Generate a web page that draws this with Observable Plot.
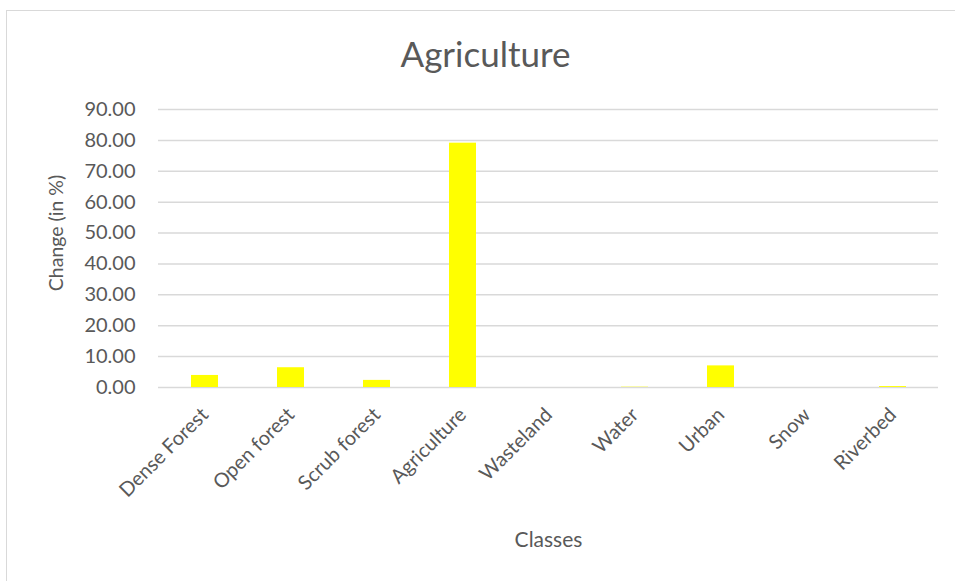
<!DOCTYPE html>
<html>
<head>
<meta charset="utf-8">
<script src="https://cdn.jsdelivr.net/npm/d3@7"></script>
<script src="https://cdn.jsdelivr.net/npm/@observablehq/plot@0.6"></script>
<style>
  body { margin: 0; background: #fff; }
  #wrap { position: relative; width: 955px; height: 581px; overflow: hidden; font-family: Lato, "Open Sans", sans-serif; color: #595959; }
  #frame { position: absolute; left: 6px; top: 10px; width: 1000px; height: 1000px; border-left: 1.5px solid #d9d9d9; border-top: 1.5px solid #d9d9d9; box-sizing: border-box; }
  #title { position: absolute; left: 0; width: 971px; top: 36px; text-align: center; font-size: 35px; line-height: 1; }
  #ylab { position: absolute; left: 55px; top: 233px; transform: translate(-50%, -50%) rotate(-90deg); font-size: 19.5px; white-space: nowrap; }
  #chart { position: absolute; left: 0; top: 0; }
</style>
</head>
<body>
<div id="wrap">
  <div id="frame"></div>
  <div id="chart"></div>
  <div id="title">Agriculture</div>
  <div id="ylab">Change (in %)</div>
</div>
<script>
const classes = ["Dense Forest", "Open forest", "Scrub forest", "Agriculture", "Wasteland", "Water", "Urban", "Snow", "Riverbed"];
const change = [3.9, 6.4, 2.3, 79.1, 0.0, 0.1, 7.0, 0.0, 0.3];
const yTicks = [0, 10, 20, 30, 40, 50, 60, 70, 80, 90];

const data = classes.map((c, i) => ({cls: c, value: change[i]}));

const plot = Plot.plot({
  width: 955,
  height: 581,
  marginTop: 109,
  marginLeft: 158,
  marginRight: 17,
  marginBottom: 194,
  style: {fontFamily: "Lato, 'Open Sans', sans-serif", fontSize: "20px", color: "#595959", background: "transparent"},
  x: {domain: classes, paddingInner: 0.69, paddingOuter: 0.345},
  y: {domain: [0, 90]},
  marks: [
    Plot.gridY(yTicks, {stroke: "#d9d9d9", strokeOpacity: 1, strokeWidth: 1.5}),
    Plot.barY(data, {x: "cls", y: "value", fill: "#ffff00"}),
    Plot.axisY({ticks: yTicks, tickSize: 0, tickPadding: 23, tickFormat: d => d.toFixed(2), label: null, fontSize: 20}),
    Plot.axisX({tickSize: 0, tickPadding: 24, tickRotate: -45, label: null, fontSize: 20}),
    Plot.axisX({ticks: [], tickSize: 0, label: "Classes", labelAnchor: "center", labelArrow: "none", labelOffset: 159, fontSize: 21})
  ]
});
document.getElementById("chart").appendChild(plot);
</script>
</body>
</html>
